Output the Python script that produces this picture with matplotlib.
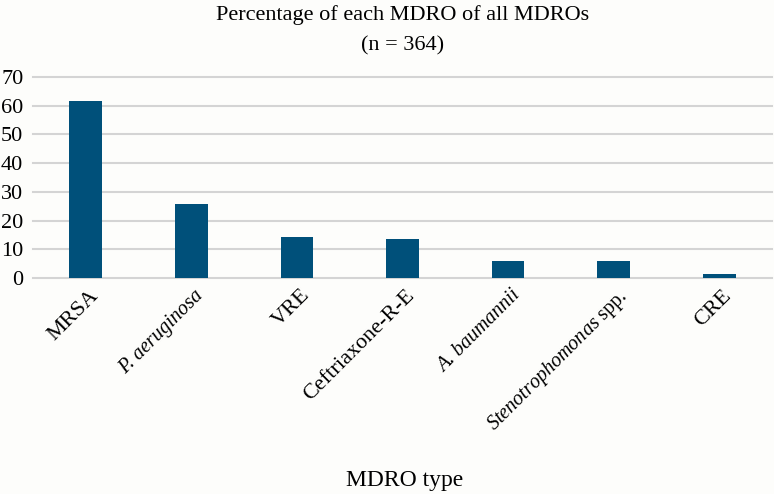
import matplotlib.pyplot as plt
import matplotlib.transforms as mtransforms

plt.rcParams["font.family"] = ["Liberation Serif", "DejaVu Serif"]
plt.rcParams["mathtext.fontset"] = "custom"
plt.rcParams["mathtext.rm"] = "Liberation Serif"
plt.rcParams["mathtext.it"] = "Liberation Serif:italic"

# datos
categorias = ["MRSA", "P. aeruginosa", "VRE", "Ceftriaxone-R-E",
              "A. baumannii", r"$\it{Stenotrophomonas}$ spp.", "CRE"]
cursiva = [False, True, False, False, True, True, False]
porcentajes = [61.5, 25.8, 14.3, 13.7, 6.0, 6.0, 1.4]
yticks = [0, 10, 20, 30, 40, 50, 60, 70]

fondo = "#fdfdfb"
fig = plt.figure(figsize=(7.74, 4.94), dpi=100, facecolor=fondo)
ax = fig.add_axes([33 / 774, 1 - 278 / 494, 739 / 774, 201 / 494], facecolor=fondo)

x = list(range(len(categorias)))
ax.bar(x, porcentajes, width=0.31, color="#00507a", zorder=3)

ax.set_xlim(-0.5, len(categorias) - 0.5)
ax.set_ylim(0, 70)
ax.set_yticks(yticks)
ax.grid(axis="y", color="#d4d4d4", linewidth=1.5, zorder=0)
for g in ax.get_ygridlines():
    g.set_clip_on(False)
for s in ax.spines.values():
    s.set_visible(False)
ax.tick_params(axis="y", length=0, pad=7, labelsize=16)
ax.tick_params(axis="x", length=0, pad=0)

ax.set_xticks(x)
ax.set_xticklabels(categorias, rotation=45, ha="right", rotation_mode="anchor", fontsize=16)
offset = mtransforms.ScaledTranslation(0.03, -0.08, fig.dpi_scale_trans)
for lab, it in zip(ax.get_xticklabels(), cursiva):
    lab.set_transform(lab.get_transform() + offset)
    if it:
        lab.set_fontsize(14.5)
        if not lab.get_text().startswith("$"):
            lab.set_fontstyle("italic")

fig.text(0.52, 1 - 15 / 494, "Percentage of each MDRO of all MDROs", ha="center", va="center", fontsize=16)
fig.text(0.52, 1 - 46 / 494, "(n = 364)", ha="center", va="center", fontsize=16)
fig.text(405 / 774, 1 - 480 / 494, "MDRO type", ha="center", va="center", fontsize=17)

fig.savefig("out.png", dpi=100, facecolor=fondo)
